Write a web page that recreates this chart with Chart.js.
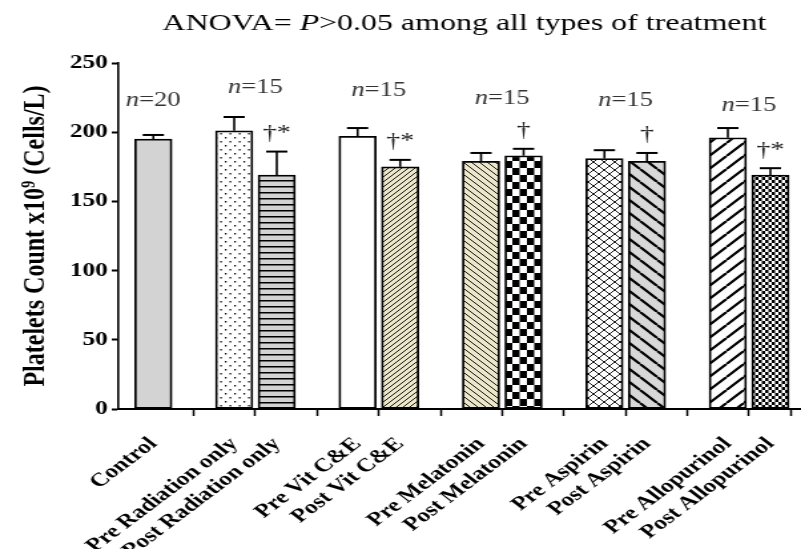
<!DOCTYPE html>
<html>
<head>
<meta charset="utf-8">
<script src="https://cdn.jsdelivr.net/npm/chart.js@4/dist/chart.umd.min.js"></script>
<style>
  html, body { margin: 0; padding: 0; background: #fff; overflow: hidden; }
  /* the figure is stretched sideways, so draw it narrow and widen it;
     the lowest labels run past the bottom edge, as in the original */
  #wrap { width: 602px; height: 566px; transform: scaleX(1.3306); transform-origin: 0 0; }
</style>
</head>
<body>
<div id="wrap"><canvas id="platelets_chart" width="602" height="566"></canvas></div>
<script>
// values
const categories = ['Control', 'Pre Radiation only', 'Post Radiation only', 'Pre Vit C&E', 'Post Vit C&E',
  'Pre Melatonin', 'Post Melatonin', 'Pre Aspirin', 'Post Aspirin', 'Pre Allopurinol', 'Post Allopurinol'];
const means = [195, 201, 169, 197, 175, 179, 183, 181, 179, 196, 169];
const sds = [3, 10, 17, 6, 5, 6, 5, 6, 6, 7, 5];
const sigMarks = ['', '', '†*', '', '†*', '', '†', '', '†', '', '†*'];
const groupN = [20, 15, 15, 15, 15, 15];
const nLabelHeights = [223, 232, 230, 224, 223, 219];
const yTicks = [0, 50, 100, 150, 200, 250];

// control is alone, the rest come in pre/post pairs
const GROUP_GAP = 1.9;
function slotPos(i) {
  if (i === 0) return 0;
  const g = Math.floor((i - 1) / 2);
  return GROUP_GAP + g * (GROUP_GAP + 1) + ((i - 1) % 2);
}
const positions = categories.map((c, i) => slotPos(i));

function tile(w, h, bg, draw) {
  const c = document.createElement('canvas');
  c.width = w; c.height = h;
  const x = c.getContext('2d');
  x.fillStyle = bg; x.fillRect(0, 0, w, h);
  x.fillStyle = '#000'; x.strokeStyle = '#000';
  draw(x, w, h);
  return x.createPattern(c, 'repeat');
}
function diag(x, s, up, lw) {
  x.lineWidth = lw;
  x.beginPath();
  for (const k of [-s, 0, s]) {
    if (up) { x.moveTo(k, s); x.lineTo(k + s, 0); }
    else { x.moveTo(k, 0); x.lineTo(k + s, s); }
  }
  x.stroke();
}
function checker(x, w, h) {
  x.fillRect(0, 0, w / 2, h / 2);
  x.fillRect(w / 2, h / 2, w / 2, h / 2);
}

const fills = [
  '#d3d3d3',
  tile(7, 8, '#fff', (x) => { x.fillRect(1, 1, 1.2, 1.5); x.fillRect(4.5, 5, 1.2, 1.5); }),
  tile(4, 6, '#d3d3d3', (x) => { x.fillRect(0, 0, 4, 1.5); }),
  '#ffffff',
  tile(5, 5, '#ece7ca', (x, w) => diag(x, w, true, 0.9)),
  tile(6, 6, '#ece7ca', (x, w) => diag(x, w, false, 0.9)),
  tile(11, 14, '#fff', (x, w, h) => checker(x, w, h)),
  tile(8, 8, '#fff', (x) => {
    x.lineWidth = 0.9;
    x.beginPath();
    x.moveTo(0, 8); x.lineTo(8, 0);
    x.moveTo(0, 4); x.lineTo(4, 8);
    x.moveTo(4, 0); x.lineTo(8, 4);
    x.stroke();
  }),
  tile(13, 13, '#d8d8d8', (x, w) => diag(x, w, false, 2.2)),
  tile(13, 13, '#fff', (x, w) => diag(x, w, true, 2.2)),
  tile(5, 6, '#fff', (x, w, h) => checker(x, w, h))
];

const serif = '"Liberation Serif", "Times New Roman", serif';

const errorBars = {
  id: 'errorBars',
  afterDatasetsDraw(chart) {
    const ctx = chart.ctx;
    const y = chart.scales.y;
    const meta = chart.getDatasetMeta(0);
    ctx.save();
    ctx.strokeStyle = '#000';
    meta.data.forEach((bar, i) => {
      const top = y.getPixelForValue(means[i] + sds[i]);
      ctx.lineWidth = 1.6;
      ctx.beginPath();
      ctx.moveTo(bar.x, bar.y);
      ctx.lineTo(bar.x, top);
      ctx.stroke();
      ctx.lineWidth = 2;
      ctx.beginPath();
      ctx.moveTo(bar.x - 8, top);
      ctx.lineTo(bar.x + 8, top);
      ctx.stroke();
      if (sigMarks[i]) {
        ctx.fillStyle = '#222';
        ctx.font = '21px ' + serif;
        ctx.textAlign = 'center';
        ctx.textBaseline = 'middle';
        ctx.fillText(sigMarks[i], bar.x, top - 18);
      }
    });
    // n per group
    ctx.fillStyle = '#333';
    ctx.textBaseline = 'middle';
    groupN.forEach((n, g) => {
      let cx;
      if (g === 0) cx = meta.data[0].x;
      else cx = (meta.data[2 * g - 1].x + meta.data[2 * g].x) / 2;
      const cy = y.getPixelForValue(nLabelHeights[g]);
      ctx.font = 'italic 20px ' + serif;
      const w1 = ctx.measureText('n').width;
      ctx.font = '20px ' + serif;
      const rest = '=' + n;
      const w2 = ctx.measureText(rest).width;
      const x0 = cx - (w1 + w2) / 2;
      ctx.textAlign = 'left';
      ctx.font = 'italic 20px ' + serif;
      ctx.fillText('n', x0, cy);
      ctx.font = '20px ' + serif;
      ctx.fillText(rest, x0 + w1, cy);
    });
    // heading
    const parts = [['ANOVA= ', ''], ['P', 'italic '], ['>0.05 among all types of treatment', '']];
    let total = 0;
    parts.forEach(p => { ctx.font = p[1] + '24px ' + serif; total += ctx.measureText(p[0]).width; });
    let x = 349 - total / 2;
    ctx.fillStyle = '#000';
    ctx.textBaseline = 'alphabetic';
    parts.forEach(p => {
      ctx.font = p[1] + '24px ' + serif;
      ctx.fillText(p[0], x, 30);
      x += ctx.measureText(p[0]).width;
    });
    ctx.restore();
  }
};

let plateletsCtx = document.getElementById('platelets_chart').getContext('2d');
let platelets_chart = new Chart(plateletsCtx, {
  type: 'bar',
  data: {
    datasets: [{
      label: 'Platelets',
      data: means.map((v, i) => ({ x: positions[i], y: v })),
      backgroundColor: fills,
      borderColor: '#000',
      borderWidth: 1.8,
      borderSkipped: false,
      barThickness: 28
    }]
  },
  options: {
    responsive: false,
    animation: false,
    layout: { padding: { top: 63, left: 0, right: 0, bottom: 0 } },
    plugins: { legend: { display: false }, tooltip: { enabled: false } },
    scales: {
      x: {
        type: 'linear',
        offset: false,
        min: -0.82,
        max: 15.22,
        afterBuildTicks(scale) { scale.ticks = positions.map(v => ({ value: v })); },
        afterFit(scale) {
          scale.height = 157;
          scale.paddingLeft = 0;
          scale.paddingRight = 0;
        },
        ticks: {
          autoSkip: false,
          minRotation: 45,
          maxRotation: 45,
          color: '#000',
          padding: 17,
          font: { family: serif, size: 19, weight: 'bold' },
          callback(value) {
            const i = positions.indexOf(value);
            return i >= 0 ? categories[i] : '';
          }
        },
        grid: { drawOnChartArea: false, tickLength: 7, tickColor: '#000', tickWidth: 1.5 },
        border: { color: '#000', width: 2 }
      },
      y: {
        min: 0,
        max: 250,
        afterBuildTicks(scale) { scale.ticks = yTicks.map(v => ({ value: v })); },
        afterFit(scale) { scale.width = 89; },
        ticks: {
          color: '#000',
          padding: 3,
          font: { family: serif, size: 19, weight: 'bold' }
        },
        grid: { drawOnChartArea: false, tickLength: 5, tickColor: '#000', tickWidth: 2 },
        border: { color: '#000', width: 1.6 },
        title: {
          display: true,
          text: 'Platelets Count x10⁹ (Cells/L)',
          color: '#000',
          font: { family: serif, size: 24, weight: 'bold' },
          padding: { top: 12, bottom: 6 }
        }
      }
    }
  },
  plugins: [errorBars]
});
</script>
</body>
</html>
